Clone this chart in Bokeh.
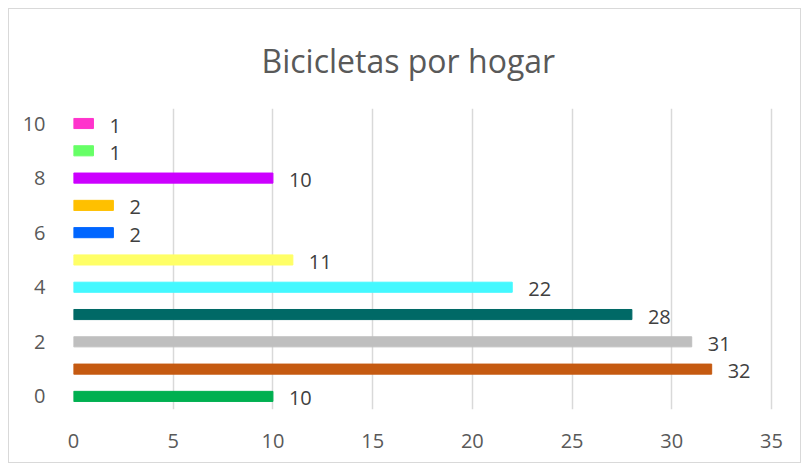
from bokeh.plotting import figure
from bokeh.models import ColumnDataSource, LabelSet, Range1d, FixedTicker
from bokeh.core.properties import value
from bokeh.embed import file_html
from bokeh.resources import INLINE

categories = [0, 1, 2, 3, 4, 5, 6, 7, 8, 9, 10]
values = [10, 32, 31, 28, 22, 11, 2, 2, 10, 1, 1]
colors = ["#00B050", "#C55A11", "#BFBFBF", "#006966", "#44F8FF", "#FFFF66",
          "#0066FF", "#FFC000", "#CC00FF", "#66FF66", "#FF33CC"]
y_ticks = [0, 2, 4, 6, 8, 10]
x_ticks = [0, 5, 10, 15, 20, 25, 30, 35]
title_text = "Bicicletas por hogar"

FONT = "Open Sans"
GREY = "#595959"

src = ColumnDataSource(dict(y=categories, x=values, color=colors,
                            lbl=[str(v) for v in values]))

p = figure(width=793, height=455, output_backend="svg", toolbar_location=None,
           x_range=Range1d(0, 35.1), y_range=Range1d(-0.48, 10.55),
           min_border_left=64, min_border_right=29, min_border_top=98,
           min_border_bottom=55, title=title_text)

p.hbar(y="y", right="x", left=0, height=0.37, color="color", source=src)

labels = LabelSet(x="x", y="y", text="lbl", source=src, x_offset=16, y_offset=-2,
                  text_baseline="middle", text_font=value(FONT),
                  text_font_size=value("20px"), text_color=value("#404040"))
p.add_layout(labels)

p.title.align = "left"
p.title.offset = 188
p.title.text_font = FONT
p.title.text_font_size = "32px"
p.title.text_font_style = "normal"
p.title.text_color = GREY
p.title.standoff = 54

p.xaxis.ticker = FixedTicker(ticks=x_ticks)
p.yaxis.ticker = FixedTicker(ticks=y_ticks)
for ax in (p.xaxis[0], p.yaxis[0]):
    ax.axis_line_color = None
    ax.major_tick_line_color = None
    ax.minor_tick_line_color = None
    ax.major_label_text_font = FONT
    ax.major_label_text_font_size = "20px"
    ax.major_label_text_color = GREY
p.xaxis.major_label_standoff = 18
p.yaxis.major_label_standoff = 22

p.xgrid.ticker = FixedTicker(ticks=x_ticks)
p.xgrid.grid_line_color = "#D9D9D9"
p.xgrid.grid_line_width = 1.5
p.ygrid.grid_line_color = None

p.outline_line_color = None
p.border_fill_color = "white"
p.background_fill_color = "white"

p.styles = {"border": "1.5px solid #D9D9D9", "margin-left": "8px", "margin-top": "8px"}

open("out.html", "w").write(file_html(p, INLINE))
